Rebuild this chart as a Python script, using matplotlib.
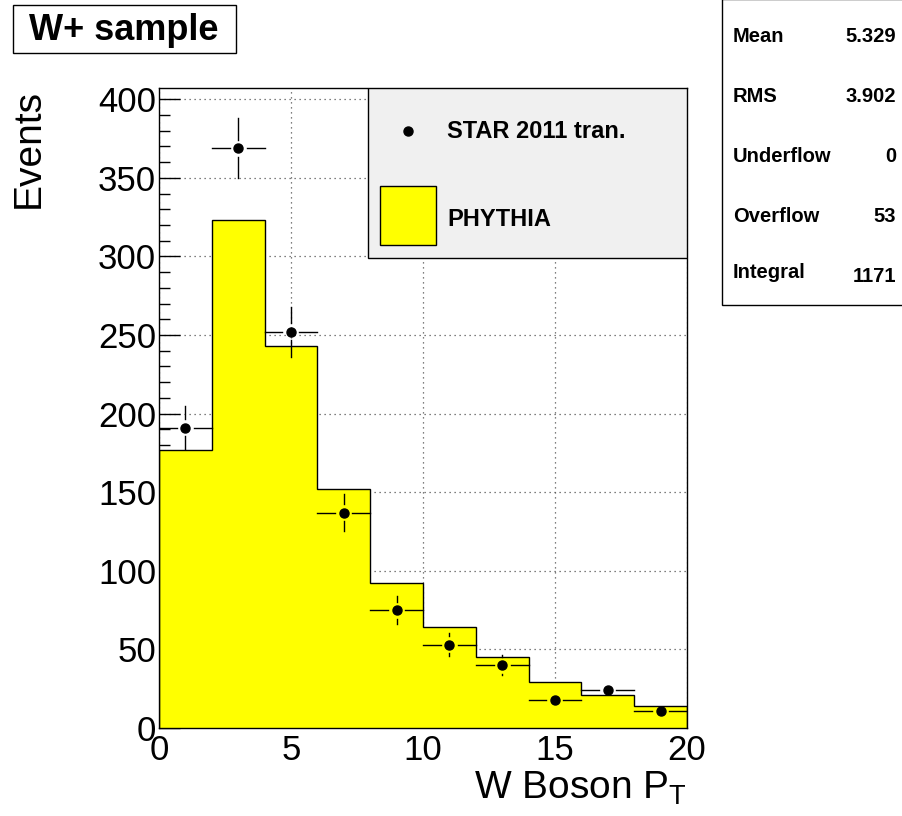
import numpy as np
import matplotlib
matplotlib.use("Agg")
import matplotlib.pyplot as plt
from matplotlib.patches import Rectangle

plt.rcParams['font.family'] = ['Liberation Sans', 'DejaVu Sans']

# histogram bins (W boson pT)
bin_edges = [0, 2, 4, 6, 8, 10, 12, 14, 16, 18, 20]
pythia_counts = [177, 323, 243, 152, 92, 64, 45, 29, 21, 14]

# STAR 2011 data points
data_x = [1, 3, 5, 7, 9, 11, 13, 15, 17, 19]
data_y = [191, 369, 252, 137, 75, 53, 40, 18, 24, 11]
data_err = [13.8, 19.2, 15.9, 11.7, 8.7, 7.3, 6.3, 4.2, 4.9, 3.3]

stat_names = ['Mean', 'RMS', 'Underflow', 'Overflow', 'Integral']
stat_values = ['5.329', '3.902', '0', '53', '1171']

W, H = 903, 816
fig = plt.figure(figsize=(W / 100, H / 100), dpi=100)

def fx(px):
    return px / W

def fy(py):
    return 1 - py / H

ax_l, ax_r, ax_t, ax_b = 159, 687, 87.5, 728
ax = fig.add_axes([fx(ax_l), fy(ax_b), fx(ax_r - ax_l), (ax_b - ax_t) / H])
ax.set_xlim(0, 20)
ax.set_ylim(0, 407.5)

# grid below everything
ax.set_axisbelow(True)
ax.set_xticks([0, 5, 10, 15, 20])
ax.set_yticks(np.arange(0, 401, 50))
ax.set_yticks(np.arange(0, 401, 10), minor=True)
ax.grid(True, which='major', linestyle=(0, (1, 3)), color='#555555', linewidth=0.9)
ax.tick_params(which='major', direction='in', length=15, width=1.0, labelsize=25, pad=2)
ax.tick_params(which='minor', direction='in', length=8, width=1.0)
ax.tick_params(axis='x', which='both', length=0, pad=4)
for s in ax.spines.values():
    s.set_linewidth(1.0)

# PYTHIA histogram
ax.stairs(pythia_counts, bin_edges, fill=True, facecolor='#ffff00', edgecolor='none', zorder=2)
ax.stairs(pythia_counts, bin_edges, fill=False, edgecolor='black', linewidth=1.0, zorder=3)

# error bars with gap around marker (ROOT style)
gap_px = 8.5
px_per_x = (ax_r - ax_l) / 20.0
px_per_y = (ax_b - ax_t) / 407.5
gx = gap_px / px_per_x
gy = gap_px / px_per_y
for x, y, e in zip(data_x, data_y, data_err):
    ax.plot([x - 1, x - gx], [y, y], color='black', lw=1.0, zorder=4)
    ax.plot([x + gx, x + 1], [y, y], color='black', lw=1.0, zorder=4)
    if e > gy:
        ax.plot([x, x], [y + gy, y + e], color='black', lw=1.0, zorder=4)
        ax.plot([x, x], [y - e, y - gy], color='black', lw=1.0, zorder=4)
ax.plot(data_x, data_y, 'o', color='black', markersize=6.5, zorder=5)

ax.set_ylabel('Events', fontsize=28)
ax.yaxis.set_label_coords(-0.212, 0.905)
ax.set_xlabel(r'W Boson P$_\mathregular{T}$', fontsize=28)
ax.xaxis.set_label_coords(1.0, -0.065)
ax.xaxis.label.set_horizontalalignment('right')

# legend box
lg_l = (368 - ax_l) / (ax_r - ax_l)
lg_b = (ax_b - 258) / (ax_b - ax_t)
ax.add_patch(Rectangle((lg_l, lg_b), 1 - lg_l, 1 - lg_b, transform=ax.transAxes,
                       facecolor='#f0f0f0', edgecolor='black', linewidth=1.0, zorder=6))

def axp(px, py):
    return ((px - ax_l) / (ax_r - ax_l), (ax_b - py) / (ax_b - ax_t))

mx, my = axp(408, 131)
ax.plot([mx], [my], 'o', color='black', markersize=6.5, transform=ax.transAxes, zorder=7)
tx, ty = axp(447, 132)
ax.text(tx, ty, 'STAR 2011 tran.', transform=ax.transAxes, fontsize=17,
        fontweight='bold', va='center', ha='left', zorder=7)
sx0, sy0 = axp(380, 245)
sx1, sy1 = axp(436, 186)
ax.add_patch(Rectangle((sx0, sy0), sx1 - sx0, sy1 - sy0, transform=ax.transAxes,
                       facecolor='#ffff00', edgecolor='black', linewidth=1.0, zorder=7))
tx, ty = axp(447, 220)
ax.text(tx, ty, 'PHYTHIA', transform=ax.transAxes, fontsize=17,
        fontweight='bold', va='center', ha='left', zorder=7)

# title box
fig.patches.append(Rectangle((fx(13), fy(53)), fx(236 - 13), (53 - 5) / H,
                             transform=fig.transFigure, facecolor='white',
                             edgecolor='black', linewidth=1.0))
fig.text(fx(124), fy(30), 'W+ sample', fontsize=26, fontweight='bold',
         ha='center', va='center')

# stats box
fig.patches.append(Rectangle((fx(722), fy(305)), fx(W + 5 - 722), 306 / H,
                             transform=fig.transFigure, facecolor='white',
                             edgecolor='black', linewidth=1.0))
stat_rows = [37, 97, 157, 217, 273]
val_rows = [37, 97, 157, 217, 277]
for name, val, yn, yv in zip(stat_names, stat_values, stat_rows, val_rows):
    fig.text(fx(733), fy(yn), name, fontsize=14.5, fontweight='bold', ha='left', va='center')
    fig.text(fx(896), fy(yv), val, fontsize=14.5, fontweight='bold', ha='right', va='center')

fig.savefig('out.png', dpi=100)
